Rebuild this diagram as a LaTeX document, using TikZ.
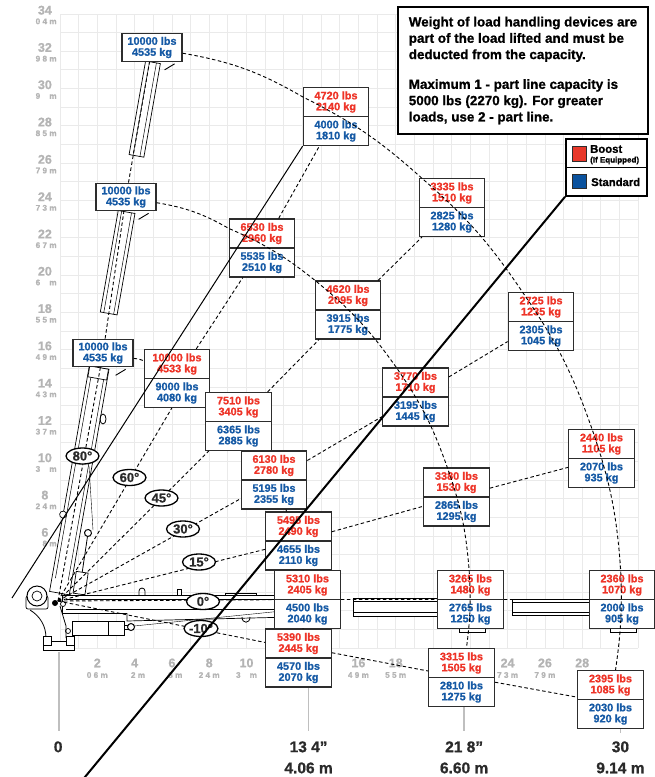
\documentclass[tikz,border=0pt]{standalone}
\usepackage{fontspec}
\setmainfont{Liberation Sans}[BoldFeatures={FakeBold=0.9}]
\usetikzlibrary{calc,shapes.multipart,shapes.geometric}
\definecolor{BoostClr}{RGB}{238,52,40}
\definecolor{StdClr}{RGB}{22,90,165}
\definecolor{BoostSq}{RGB}{232,56,42}
\definecolor{StdSq}{RGB}{10,82,158}
\definecolor{GridClr}{RGB}{234,234,234}
\definecolor{AxisClr}{RGB}{180,180,180}
\definecolor{DimClr}{RGB}{42,42,42}
\definecolor{BoxClr}{RGB}{45,45,45}

\tikzset{
  capbox/.style={rectangle split,rectangle split parts=2,draw=BoxClr,line width=1.2pt,fill=white,
    minimum width=65.5pt,inner xsep=1pt,inner ysep=3.3pt,align=center,
    font=\bfseries\fontsize{10.9}{11}\selectfont},
  tipbox/.style={draw=BoxClr,line width=1.2pt,fill=white,minimum width=60pt,minimum height=27.5pt,
    inner sep=1pt,align=center,text=StdClr,font=\bfseries\fontsize{10.9}{11}\selectfont},
  degtag/.style={ellipse,draw,line width=1.3pt,fill=white,inner sep=0pt,minimum width=33pt,
    minimum height=16pt,text=DimClr,font=\bfseries\fontsize{13}{13}\selectfont},
  reach/.style={line width=0.9pt,dash pattern=on 3.5pt off 2.5pt},
  part/.style={draw,line width=0.7pt,fill=white},
  axisnum/.style={text=AxisClr,inner sep=0pt,font=\bfseries\fontsize{12.5}{13}\selectfont},
  axism/.style={text=AxisClr,inner sep=0pt,font=\bfseries\fontsize{8.2}{9}\selectfont},
  dimtext/.style={text=DimClr,inner sep=0pt,font=\bfseries\fontsize{15.5}{16}\selectfont},
  dimline/.style={AxisClr!85,line width=1.3pt},
}
\newcommand\loadcell[6]{\node[capbox] (#1) at (#2)
  {\textcolor{BoostClr}{#3}\\\textcolor{BoostClr}{#4}\nodepart{two}\textcolor{StdClr}{#5}\\\textcolor{StdClr}{#6}};}

\begin{document}
\begin{tikzpicture}[x=1pt,y=1pt]
\useasboundingbox (0,0) rectangle (655,-777);

\begin{scope}[shift={(60,-648)},x=18.65pt,y=18.65pt]
\draw[GridClr,line width=0.8pt,step=1] (0,0) grid (31,34);
\foreach \ft/\m in {34/{0 4 m},32/{9 8 m},30/{9\phantom{.1} m},28/{8 5 m},26/{7 9 m},24/{7 3 m},
  22/{6 7 m},20/{6\phantom{.1} m},18/{5 5 m},16/{4 9 m},14/{4 3 m},12/{3 7 m},10/{3\phantom{.1} m},
  8/{2 4 m},6/{\phantom{1.}8 m}}{
  \node[axisnum] (yn\ft) at (-0.81,\ft+0.2) {\ft};
  \node[axism,anchor=east] (ym\ft) at (-0.17,\ft-0.4) {\m};
}
\foreach \ft/\m in {2/{0 6 m},4/{\phantom{1} 2 m},6/{\phantom{1} 8 m},8/{2 4 m},10/{3\phantom{.1} m},
  16/{4 9 m},18/{5 5 m},24/{7 3 m},26/{7 9 m}}{
  \node[axisnum] (xn\ft) at (\ft,-0.8) {\ft};
  \node[axism] (xm\ft) at (\ft,-1.45) {\m};
}
\node[axisnum] (xn28) at (28,-0.8) {28};
\draw[dimline] (-0.05,-0.2) -- (-0.05,-4.45);
\draw[dimline] (13.33,-2) -- (13.33,-4.45);
\draw[dimline] (21.67,-3) -- (21.67,-4.45);
\draw[dimline] (30.05,-4.2) -- (30.05,-4.55);
\node[dimtext] (z0) at (-0.1,-5.3) {0};
\node[dimtext] (z1a) at (13.33,-5.3) {13 4”};
\node[dimtext] (z1b) at (13.33,-6.43) {4.06 m};
\node[dimtext] (z2a) at (21.67,-5.3) {21 8”};
\node[dimtext] (z2b) at (21.67,-6.43) {6.60 m};
\node[dimtext] (z3a) at (30.05,-5.3) {30};
\node[dimtext] (z3b) at (30.05,-6.43) {9.14 m};
\end{scope}

\coordinate (P) at (58,-601);
\draw[part] (62,-595) rectangle (292,-613);
\draw[line width=0.5pt] (66,-599) -- (292,-599) (66,-609) -- (292,-609);
\draw[part] (127,-613) -- (127,-621) -- (292,-617) -- (292,-613);
\draw[part] (353,-598) rectangle (446,-616);
\draw[line width=0.5pt] (353,-601.5) -- (446,-601.5) (353,-612.5) -- (446,-612.5);
\draw[part] (512,-599) rectangle (598,-615);
\draw[line width=0.5pt] (512,-602) -- (598,-602) (512,-612) -- (598,-612);
\draw[part] (459,-626) rectangle (485,-632);
\draw[part] (610,-626) rectangle (636,-632);
\draw[line width=0.8pt] (139,-595) -- (139,-591) arc[start angle=180,end angle=0,radius=3] -- (145,-595);
\draw[part] (177,-595) rectangle (181,-589);
\draw[part] (225,-593) rectangle (256,-595.5);
\draw[line width=0.8pt] (242,-617) .. controls (242,-624) and (250,-624) .. (250,-617);
\draw (134,-626) -- (292,-610);
\draw[part] (72,-621) rectangle (124,-635);
\draw (108,-621) -- (108,-635);
\draw[part] (124,-625) rectangle (129,-629);
\draw[part,line width=1pt] (131,-627) circle (3.5);
\draw[part] (68,-631) circle (2.5);
\draw[line width=0.8pt] (30,-610) .. controls (40,-616) and (46,-626) .. (46,-638);
\draw[line width=0.8pt] (60,-606) -- (66,-626) -- (66,-638);
\draw[part] (43,-641) rectangle (74,-650);
\draw[part] (43,-636) rectangle (51,-645);
\draw[part] (66,-636) rectangle (74,-645);
\draw[part,rounded corners=2pt] (26,-596) rectangle (48,-609);
\draw[part,line width=1pt] (37,-596) circle (10);
\draw[part] (37,-596) circle (5);
\begin{scope}[shift={(P)},rotate=80]
\draw[part] (8,-10) rectangle (237,10);
\draw[line width=0.5pt] (22,-6.5) -- (226,-6.5) (22,6.5) -- (226,6.5);
\draw[part] (226,-9.5) rectangle (237,9.5);
\draw[part] (292,-8.5) rectangle (395,8.5);
\draw[line width=0.5pt] (292,-5) -- (395,-5) (292,5) -- (395,5);
\draw[part] (452,-7.5) rectangle (547,7.5);
\draw[line width=0.5pt] (452,-3.5) -- (547,-3.5) (452,3.5) -- (547,3.5);
\draw[part] (86,10) circle (3.5);
\end{scope}
\begin{scope}[shift={(79,-594)},rotate=81.6]
\draw[part] (0,-6) rectangle (22,6);
\draw[line width=0.8pt] (22,0) -- (58,0);
\draw[part,line width=1pt] (61.7,0) circle (3.5);
\end{scope}
\draw (89,-466) -- (93,-530);
\draw[line width=0.8pt] (103,-419) ellipse (3 and 5);
\fill (55,-603) circle (3);
\draw[part] (63,-604) circle (2.5);

\node[tipbox] (i80) at (103,-353) {10000 lbs\\4535 kg};
\node[tipbox] (m80) at (126,-197) {10000 lbs\\4535 kg};
\node[tipbox] (o80) at (152,-47.5) {10000 lbs\\4535 kg};
\loadcell{i60}{177,-378.5}{10000 lbs}{4533 kg}{9000 lbs}{4080 kg}
\loadcell{i45}{238.5,-421.5}{7510 lbs}{3405 kg}{6365 lbs}{2885 kg}
\loadcell{i30}{274,-480}{6130 lbs}{2780 kg}{5195 lbs}{2355 kg}
\loadcell{i15}{298.5,-541}{5495 lbs}{2490 kg}{4655 lbs}{2110 kg}
\loadcell{i0}{307.5,-599.5}{5310 lbs}{2405 kg}{4500 lbs}{2040 kg}
\loadcell{im10}{298.5,-658}{5390 lbs}{2445 kg}{4570 lbs}{2070 kg}
\loadcell{m60}{262,-248}{6530 lbs}{2960 kg}{5535 lbs}{2510 kg}
\loadcell{m45}{348,-310}{4620 lbs}{2095 kg}{3915 lbs}{1775 kg}
\loadcell{m30}{415.5,-397}{3770 lbs}{1710 kg}{3195 lbs}{1445 kg}
\loadcell{m15}{456.5,-497}{3380 lbs}{1530 kg}{2865 lbs}{1295 kg}
\loadcell{m0}{470.5,-599.5}{3265 lbs}{1480 kg}{2765 lbs}{1250 kg}
\loadcell{mm10}{461.5,-677.5}{3315 lbs}{1505 kg}{2810 lbs}{1275 kg}
\loadcell{o60}{336,-116.5}{4720 lbs}{2140 kg}{4000 lbs}{1810 kg}
\loadcell{o45}{452,-207.5}{3335 lbs}{1510 kg}{2825 lbs}{1280 kg}
\loadcell{o30}{541,-321.5}{2725 lbs}{1235 kg}{2305 lbs}{1045 kg}
\loadcell{o15}{601.5,-458.5}{2440 lbs}{1105 kg}{2070 lbs}{935 kg}
\loadcell{o0}{622,-599.5}{2360 lbs}{1070 kg}{2000 lbs}{905 kg}
\loadcell{om10}{610.5,-699.5}{2395 lbs}{1085 kg}{2030 lbs}{920 kg}

\foreach \a in {80,45,30,15,0}
  \draw[reach] (P) -- (i\a) -- (m\a) -- (o\a);
\draw[reach] (P) -- (i60.-100) (i60) -- (m60) -- (o60);
\draw[reach] (P) -- (im10.155) (im10.9) -- (mm10.169) (mm10.-8) -- (om10.176);
\draw[reach] (i80) to[bend left=9] (i60);
\draw[reach] (i30) -- (i15) -- (i0) -- (im10);
\draw[reach] (m80) to[bend left=10] (m60) to[bend left=7.5] (m45) to[bend left=7.7] (m30)
  to[bend left=7.6] (m15) to[bend left=7.3] (m0) to[bend left=5.5] (mm10);
\draw[reach] (o80) to[bend left=10] (o60) to[bend left=7.6] (o45) to[bend left=7.5] (o30)
  to[bend left=7.6] (o15) to[bend left=7.4] (o0) to[bend left=5.2] (om10);

\node[degtag] (a80) at (82.5,-456) {80°};
\node[degtag] (a60) at (129.5,-477.5) {60°};
\node[degtag] (a45) at (161.5,-498) {45°};
\node[degtag] (a30) at (183,-529) {30°};
\node[degtag] (a15) at (199,-562) {15°};
\node[degtag] (a0) at (203,-601.5) {0°};
\node[degtag] (am10) at (201,-628.5) {-10°};

\foreach \b in {i80,m80,o80}
  \draw[line width=0.9pt] ($(\b.south east)+(-8,-2)$) -- ++(-10,-6);

\node[draw,line width=2pt,fill=white,anchor=north west,minimum width=250pt,minimum height=127pt,
  inner xsep=7pt,align=left,font=\bfseries\fontsize{13.4}{16.3}\selectfont] (note) at (397,-6)
  {Weight of load handling devices are\\part of the load lifted and must be\\deducted from the capacity.\\[13.5pt]
   Maximum 1 - part line capacity is\\5000 lbs (2270 kg). For greater\\loads, use 2 - part line.};

\node[draw,line width=1.8pt,fill=white,anchor=north west,minimum width=81pt,minimum height=57pt,inner sep=0pt] (legend) at (565,-138) {};
\draw[line width=1.5pt] (legend.west) -- (legend.east);
\node[draw=BoxClr,fill=BoostSq,line width=0.8pt,minimum size=14.5pt,inner sep=0pt] (sqB) at (579.5,-154) {};
\node[draw=BoxClr,fill=StdSq,line width=0.8pt,minimum size=14.5pt,inner sep=0pt] (sqS) at (579.5,-181.5) {};
\node[anchor=west,inner sep=0pt,font=\bfseries\fontsize{11.3}{12}\selectfont] (tB) at (590,-149) {Boost};
\node[anchor=west,inner sep=0pt,font=\bfseries\fontsize{8}{9}\selectfont] (tE) at (590,-160.5) {(If Equipped)};
\node[anchor=west,inner sep=0pt,font=\bfseries\fontsize{11.3}{12}\selectfont] (tS) at (591,-182) {Standard};

\coordinate (thinEnd) at (12,-598);
\coordinate (thickEnd) at (80,-783);
\draw[line width=1pt] (o60.south west) -- (thinEnd);
\draw[line width=2pt] (legend.south west) -- (thickEnd);
\end{tikzpicture}
\end{document}
